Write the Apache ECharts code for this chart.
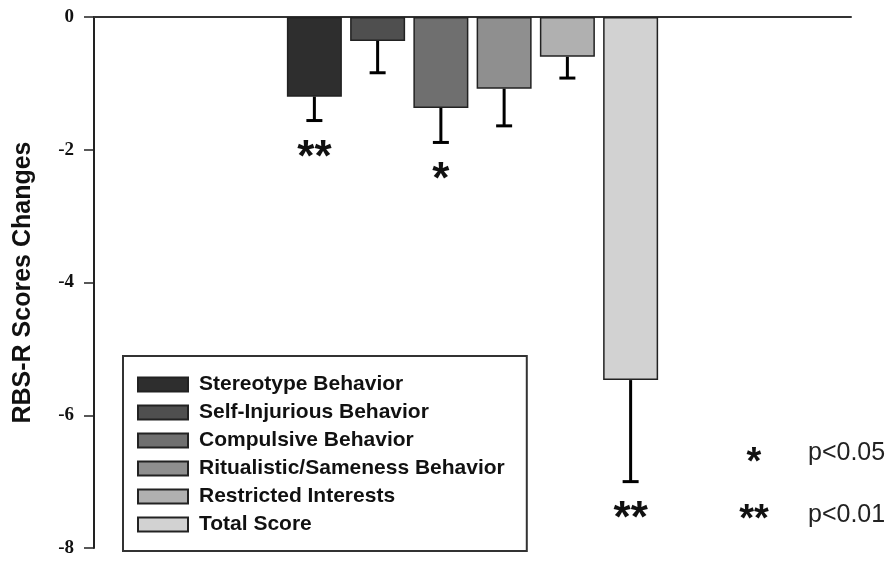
<!DOCTYPE html>
<html>
<head>
<meta charset="utf-8">
<script src="https://cdn.jsdelivr.net/npm/echarts@6/dist/echarts.min.js"></script>
<style>
  html, body { margin: 0; padding: 0; background: #fff; }
  #chart { width: 893px; height: 561px; }
</style>
</head>
<body>
<div id="chart"></div>
<script>
// RBS-R subscale changes (mean, one-sided SE bars)
const categories = [
  'Stereotype Behavior',
  'Self-Injurious Behavior',
  'Compulsive Behavior',
  'Ritualistic/Sameness Behavior',
  'Restricted Interests',
  'Total Score'
]
const meanChange = [-1.20, -0.36, -1.37, -1.08, -0.60, -5.47]
const stdErr = [0.36, 0.48, 0.52, 0.56, 0.32, 1.53]
const significance = ['**', '', '*', '', '', '**']
const barColors = ['#2e2e2e', '#4f4f4f', '#6f6f6f', '#8f8f8f', '#b0b0b0', '#d2d2d2']
const pLegend = [['*', 'p<0.05'], ['**', 'p<0.01']]

const BAR_W = 55
const BAR_GAP = 0.15
const SANS = 'Liberation Sans, Arial, sans-serif'

const chart = echarts.init(document.getElementById('chart'))

const barSeries = categories.map((name, i) => ({
  name,
  type: 'bar',
  data: [meanChange[i]],
  barWidth: BAR_W,
  barGap: (BAR_GAP * 100) + '%',
  itemStyle: {
    color: barColors[i],
    borderColor: '#222',
    borderWidth: 1.5
  },
  emphasis: { disabled: true }
}))

const errData = categories.map((name, i) => [0, meanChange[i], meanChange[i] - stdErr[i], i])

const errSeries = {
  type: 'custom',
  name: 'err',
  data: errData,
  encode: { x: 0, y: 1 },
  z: 5,
  renderItem: (params, api) => {
    const idx = api.value(3)
    const top = api.coord([0, api.value(1)])
    const low = api.coord([0, api.value(2)])
    const slot = BAR_W * (1 + BAR_GAP)
    const x = top[0] + (idx - (categories.length - 1) / 2) * slot
    const children = [
      {
        type: 'line',
        shape: { x1: x, y1: top[1], x2: x, y2: low[1] },
        style: { stroke: '#000', lineWidth: 3 }
      },
      {
        type: 'line',
        shape: { x1: x - 8, y1: low[1], x2: x + 8, y2: low[1] },
        style: { stroke: '#000', lineWidth: 3 }
      }
    ]
    if (significance[idx]) {
      children.push({
        type: 'text',
        style: {
          text: significance[idx],
          x: x,
          y: low[1] + 38,
          align: 'center',
          verticalAlign: 'middle',
          fontSize: 44,
          fontWeight: 'bold',
          fontFamily: SANS,
          fill: '#111'
        }
      })
    }
    return { type: 'group', children }
  }
}

const option = {
  animation: false,
  grid: { left: 94, right: 42, top: 17, bottom: 13 },
  legend: {
    data: categories,
    orient: 'vertical',
    left: 123,
    top: 356,
    itemWidth: 50,
    itemHeight: 14,
    itemGap: 7,
    padding: [18, 22, 16, 14],
    borderColor: '#333',
    borderWidth: 2,
    backgroundColor: '#fff',
    icon: 'rect',
    selectedMode: false,
    textStyle: {
      fontFamily: SANS,
      fontWeight: 'bold',
      fontSize: 21,
      color: '#111',
      padding: [0, 0, 0, 6]
    }
  },
  xAxis: {
    type: 'category',
    data: ['RBS-R'],
    axisLine: { show: true, onZero: true, lineStyle: { color: '#333', width: 2 } },
    axisTick: { show: false },
    axisLabel: { show: false },
    splitLine: { show: false }
  },
  yAxis: {
    type: 'value',
    min: -8,
    max: 0,
    interval: 2,
    name: 'RBS-R Scores Changes',
    nameLocation: 'middle',
    nameGap: 58,
    nameTextStyle: {
      fontFamily: SANS,
      fontWeight: 'bold',
      fontSize: 25,
      color: '#111'
    },
    axisLine: { show: true, lineStyle: { color: '#222', width: 2 } },
    axisTick: { show: true, length: 10, lineStyle: { color: '#222', width: 1.5 } },
    axisLabel: {
      margin: 20,
      fontFamily: 'Liberation Serif, Times New Roman, serif',
      fontWeight: 'bold',
      fontSize: 19,
      color: '#111'
    },
    splitLine: { show: false }
  },
  graphic: pLegend.flatMap((row, i) => [
    {
      type: 'text',
      x: 754,
      y: 464 + i * 57,
      style: {
        text: row[0],
        align: 'center',
        verticalAlign: 'middle',
        fontSize: 38,
        fontWeight: 'bold',
        fontFamily: SANS,
        fill: '#111'
      }
    },
    {
      type: 'text',
      x: 808,
      y: 453 + i * 62,
      style: {
        text: row[1],
        align: 'left',
        verticalAlign: 'middle',
        fontSize: 25,
        fontFamily: SANS,
        fill: '#222'
      }
    }
  ]),
  series: [...barSeries, errSeries]
}

chart.setOption(option)
</script>
</body>
</html>
